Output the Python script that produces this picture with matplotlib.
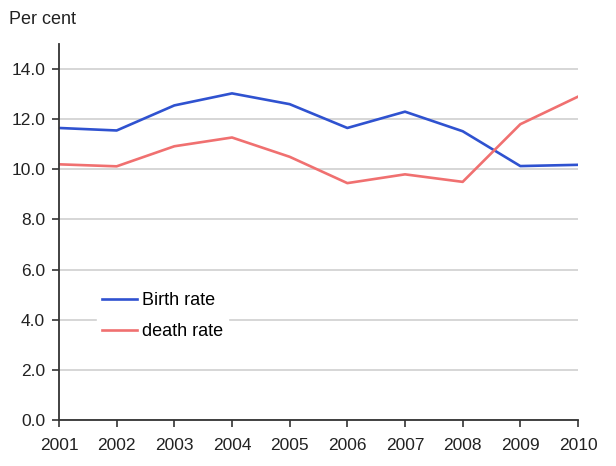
import matplotlib
matplotlib.use("Agg")
import matplotlib.pyplot as plt

years = [2001, 2002, 2003, 2004, 2005, 2006, 2007, 2008, 2009, 2010]
birth_rate = [11.65, 11.55, 12.55, 13.03, 12.6, 11.65, 12.3, 11.52, 10.13, 10.18]
death_rate = [10.2, 10.12, 10.92, 11.27, 10.5, 9.45, 9.8, 9.5, 11.8, 12.9]
y_ticks = [0, 2, 4, 6, 8, 10, 12, 14]

plt.rcParams['font.family'] = ['Liberation Sans', 'DejaVu Sans']
fig = plt.figure(figsize=(6.16, 4.66), dpi=100)
W, H = 616, 466
ax = fig.add_axes([59 / W, (H - 420) / H, (578 - 59) / W, (420 - 44) / H])

ax.plot(years, birth_rate, color='#2F52D0', lw=1.9, label='Birth rate', solid_joinstyle='round')
ax.plot(years, death_rate, color='#F07070', lw=1.9, label='death rate', solid_joinstyle='round')

ax.set_xlim(years[0], years[-1])
ax.set_ylim(0, 15)
ax.set_xticks(years)
ax.set_xticklabels([str(y) for y in years])
ax.set_yticks(y_ticks)
ax.set_yticklabels([f"{v:.1f}" for v in y_ticks])
ax.yaxis.grid(True, color='#D0D0D0', lw=1.2)
ax.set_axisbelow(True)
for s in ['top', 'right']:
    ax.spines[s].set_visible(False)
for s in ['left', 'bottom']:
    ax.spines[s].set_color('#333333')
    ax.spines[s].set_linewidth(1.3)
ax.tick_params(axis='both', colors='#333333', labelcolor='#222222', labelsize=12.5, width=1.2, length=5)
ax.tick_params(axis='x', pad=8)
ax.tick_params(axis='y', pad=5)

leg = ax.legend(loc='upper left', bbox_to_anchor=(0.055, 0.378), frameon=True, fontsize=13,
                handlelength=1.95, handletextpad=0.25, labelspacing=0.75, borderpad=0.3)
leg.get_frame().set_edgecolor('white')
leg.get_frame().set_facecolor('white')
leg.get_frame().set_alpha(1)

fig.text(9 / W, 1 - 19 / H, 'Per cent', fontsize=13, color='#222222', va='center', ha='left')

fig.savefig('out.png', dpi=100)
